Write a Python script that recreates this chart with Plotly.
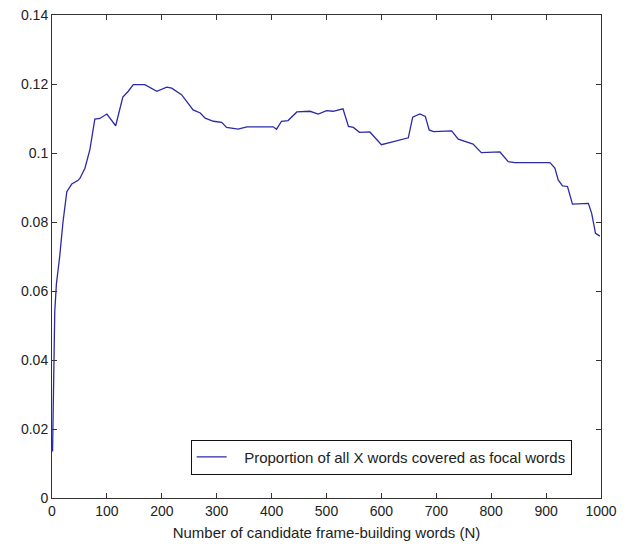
import plotly.graph_objects as go

n_words = [1, 2, 3, 5, 8, 14, 20, 27, 36, 47, 51, 60, 69, 78, 87, 100, 116, 129, 139, 148, 169,
           191, 209, 218, 236, 257, 270, 279, 294, 309, 318, 339, 355, 403, 409, 418, 430, 446,
           470, 485, 500, 512, 530, 540, 549, 560, 579, 600, 622, 634, 649, 657, 670, 680, 687,
           695, 728, 740, 767, 782, 816, 831, 843, 907, 916, 922, 930, 939, 948, 977, 983, 990, 998]
proportion = [0.0135, 0.027, 0.041, 0.054, 0.062, 0.070, 0.080, 0.0888, 0.091, 0.092, 0.0927,
              0.0956, 0.101, 0.1098, 0.110, 0.1113, 0.1079, 0.1162, 0.1179, 0.1198, 0.1198,
              0.1179, 0.1191, 0.1188, 0.1169, 0.1125, 0.1116, 0.1101, 0.1092, 0.1089, 0.1074,
              0.1069, 0.1076, 0.1076, 0.1069, 0.1092, 0.1094, 0.1119, 0.1121, 0.1113, 0.1123,
              0.1121, 0.1128, 0.1077, 0.1074, 0.1060, 0.1061, 0.1024, 0.1033, 0.1038, 0.1044,
              0.1104, 0.1113, 0.1106, 0.1067, 0.1062, 0.1064, 0.1040, 0.1026, 0.1001, 0.1003,
              0.0975, 0.0972, 0.0972, 0.0956, 0.0922, 0.0905, 0.0903, 0.0852, 0.0854, 0.0825,
              0.0767, 0.0759]

x_ticks = list(range(0, 1001, 100))
y_ticks = [0, 0.02, 0.04, 0.06, 0.08, 0.1, 0.12, 0.14]
y_tick_labels = ["0", "0.02", "0.04", "0.06", "0.08", "0.1", "0.12", "0.14"]
series_name = "Proportion of all X words covered as focal words"

FONT = "Liberation Sans, Arial"

fig = go.Figure()
fig.add_trace(go.Scatter(
    x=n_words, y=proportion, mode="lines",
    line=dict(color="#2a2aa8", width=1.3),
    name="\u00a0\u00a0\u00a0" + series_name,
))

axis_common = dict(
    showline=True, linecolor="#333333", linewidth=1, mirror="ticks",
    ticks="inside", ticklen=5, tickcolor="#333333", showgrid=False, zeroline=False,
    tickfont=dict(family=FONT, size=14, color="#222222"),
    automargin=False,
)

fig.update_layout(
    width=634, height=546,
    margin=dict(l=52, r=33, t=15, b=48),
    paper_bgcolor="white", plot_bgcolor="white",
    xaxis=dict(range=[0, 1000], tickvals=x_ticks,
               title=dict(text="Number of candidate frame-building words (N)",
                          font=dict(family=FONT, size=15, color="#222222"),
                          standoff=9),
               **axis_common),
    yaxis=dict(range=[0, 0.14], tickvals=y_ticks, ticktext=y_tick_labels, **axis_common),
    showlegend=True,
    legend=dict(x=0.2526, y=0.121, xanchor="left", yanchor="top",
                bgcolor="white", bordercolor="#111111", borderwidth=1,
                font=dict(family=FONT, size=15, color="#222222"),
                tracegroupgap=0, itemwidth=30),
)

fig.write_html("out.html")
